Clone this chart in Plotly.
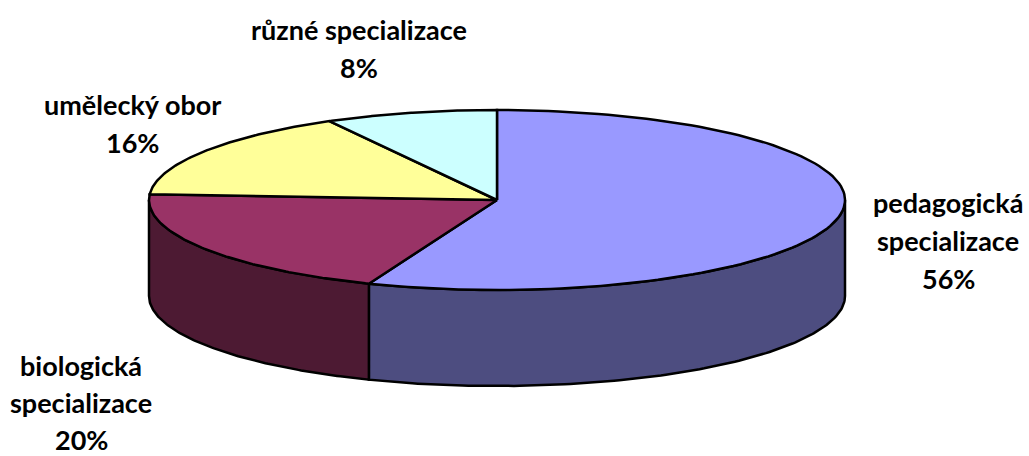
#!/usr/bin/env python3
# -*- coding: utf-8 -*-
#
# 3D-looking pie, plotly has no such trace so slices are filled scatter shapes
#
import numpy as np
import plotly.graph_objects as go

categories = ['pedagogická specializace', 'biologická specializace', 'umělecký obor', 'různé specializace']
shares = [56, 20, 16, 8]
top_colors = ['#9999FF', '#993366', '#FFFF99', '#CCFFFF']
side_colors = ['#4D4D80', '#4D1A33', '#80804D', '#668080']

# label lines and where they sit (screen px, axes run in px)
label_lines = [['pedagogická', 'specializace'], ['biologická', 'specializace'], ['umělecký obor'], ['různé specializace']]
label_x = [948, 81, 132, 359]
label_y = [202, 365, 104, 29]
line_steps = [38, 37, 38, 38]

cx, cy = 497, 200
rx, ry = 348, 90
depth = 96


def rim(a0, a1, drop=0):
    t = np.radians(np.linspace(a0, a1, 120))
    return cx + rx * np.sin(t), cy - ry * np.cos(t) + drop


fig = go.Figure()
outline = dict(color='black', width=2.5)

edges = np.concatenate([[0], np.cumsum(shares)]) * 3.6

# side walls first, only the front half of the rim shows
for i in range(len(shares)):
    a0, a1 = max(edges[i], 90), min(edges[i + 1], 270)
    if a0 >= a1:
        continue
    x1, y1 = rim(a0, a1)
    x2, y2 = rim(a1, a0, depth)
    fig.add_trace(go.Scatter(x=np.r_[x1, x2, x1[0]], y=np.r_[y1, y2, y1[0]], mode='lines',
                             fill='toself', fillcolor=side_colors[i], line=outline, hoverinfo='skip'))

# top faces
for i in range(len(shares)):
    x1, y1 = rim(edges[i], edges[i + 1])
    fig.add_trace(go.Scatter(x=np.r_[cx, x1, cx], y=np.r_[cy, y1, cy], mode='lines',
                             fill='toself', fillcolor=top_colors[i], line=outline,
                             name=categories[i], hoverinfo='name'))

for i in range(len(shares)):
    lines = label_lines[i] + [f'{shares[i]}%']
    for n, txt in enumerate(lines):
        fig.add_annotation(x=label_x[i], y=label_y[i] + n * line_steps[i], text=f'<b>{txt}</b>', showarrow=False,
                           xanchor='center', yanchor='middle',
                           font=dict(family='Lato', size=27, color='black'))

fig.update_xaxes(range=[0, 1029], visible=False, fixedrange=True)
fig.update_yaxes(range=[456, 0], visible=False, fixedrange=True)
fig.update_layout(width=1029, height=456, margin=dict(l=0, r=0, t=0, b=0), showlegend=False,
                  paper_bgcolor='white', plot_bgcolor='white')
# page body has a default 8px margin, drop it
fig.write_html("out.html", config=dict(displayModeBar=False), post_script="document.body.style.margin='0';")
